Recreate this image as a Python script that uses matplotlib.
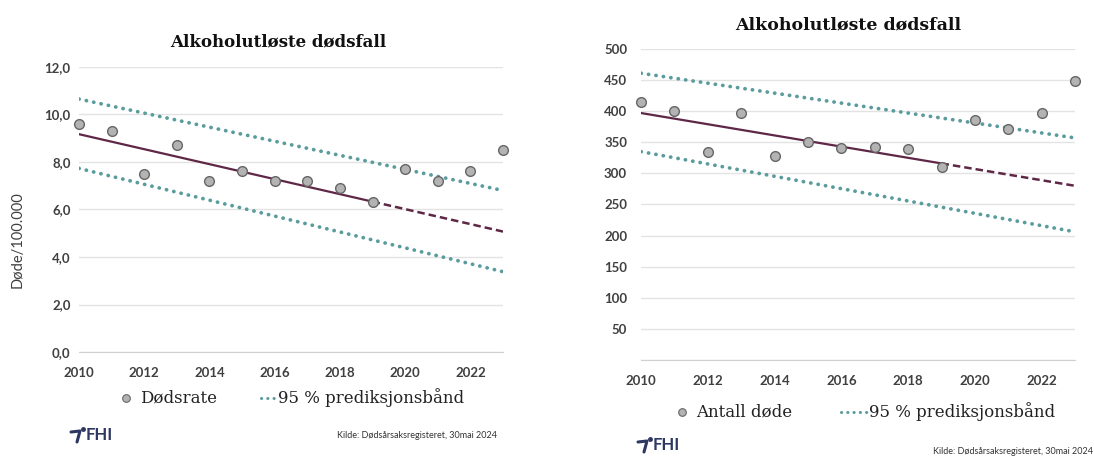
import numpy as np
import matplotlib
matplotlib.use("Agg")
import matplotlib.pyplot as plt
from matplotlib.ticker import FuncFormatter

years = list(range(2010, 2024))

# rate per 100 000
rate = [9.6, 9.3, 7.5, 8.7, 7.2, 7.6, 7.2, 7.2, 6.9, 6.3, 7.7, 7.2, 7.6, 8.5]
rate_trend_fit = [2010, 2019]          # solid part of the trend
rate_trend_fit_vals = [9.17, 6.33]
rate_trend_proj = [2019, 2023]         # dashed projection
rate_trend_proj_vals = [6.33, 5.07]
rate_band_years = [2010, 2023]
rate_band_upper = [10.65, 6.8]
rate_band_lower = [7.73, 3.38]

# number of deaths
deaths = [415, 400, 335, 397, 328, 351, 341, 343, 339, 311, 386, 371, 397, 449]
deaths_trend_fit = [2010, 2019]
deaths_trend_fit_vals = [397, 316]
deaths_trend_proj = [2019, 2023]
deaths_trend_proj_vals = [316, 280]
deaths_band_years = [2010, 2023]
deaths_band_upper = [461, 357]
deaths_band_lower = [335, 206]

xticks = [2010, 2012, 2014, 2016, 2018, 2020, 2022]

TITLE = "Alkoholutløste dødsfall"
SOURCE = "Kilde: Dødsårsaksregisteret, 30mai 2024"

c_point = "#b3b3b3"
c_point_edge = "#666666"
c_trend = "#5e2746"
c_band = "#5a9c9e"
c_grid = "#e3e3e3"
c_tick = "#404040"
c_fhi = "#2d3761"

sans = ["Lato", "DejaVu Sans"]
serif = ["DejaVu Serif"]

fig = plt.figure(figsize=(10.94, 4.59), dpi=100)


def draw_panel(ax, vals, fit_x, fit_y, proj_x, proj_y, band_x, up, lo):
    for b in (up, lo):
        ax.plot(band_x, b, color=c_band, lw=2.7, linestyle=(0, (0.05, 1.95)),
                dash_capstyle="round", zorder=2)
    ax.plot(fit_x, fit_y, color=c_trend, lw=1.6, zorder=3)
    ax.plot(proj_x, proj_y, color=c_trend, lw=1.8, linestyle=(0, (3, 1.6)), zorder=3)
    ax.plot(years, vals, linestyle="none", marker="o", ms=7, mfc=c_point,
            mec=c_point_edge, mew=1.0, zorder=4, clip_on=False)
    ax.set_xlim(2010, 2023)
    ax.set_xticks(xticks)
    ax.grid(axis="y", color=c_grid, lw=1.0, zorder=0)
    for s in ["top", "right", "left"]:
        ax.spines[s].set_visible(False)
    ax.spines["bottom"].set_color("#d0d0d0")
    ax.tick_params(length=0, labelsize=9.5, colors=c_tick, pad=6)


# left panel: rate
ax1 = fig.add_axes([0.0722, 0.2331, 0.3876, 0.621])
draw_panel(ax1, rate, rate_trend_fit, rate_trend_fit_vals, rate_trend_proj,
           rate_trend_proj_vals, rate_band_years, rate_band_upper, rate_band_lower)
ax1.set_ylim(0, 12)
ax1.set_yticks(np.arange(0, 12.1, 2))
ax1.yaxis.set_major_formatter(FuncFormatter(lambda v, p: f"{v:.1f}".replace(".", ",")))
ax1.tick_params(axis="x", pad=11)
fig.text(0.0165, 1 - 240 / 459, "Døde/100.000", rotation=90, ha="center", va="center",
         family=sans, fontsize=10.5, color=c_tick)
fig.text(278 / 1094, 1 - 42 / 459, TITLE, ha="center", va="center",
         family=serif, fontsize=12, fontweight="bold", color="#111111")

# right panel: counts
ax2 = fig.add_axes([0.586, 0.2157, 0.3967, 0.6776])
draw_panel(ax2, deaths, deaths_trend_fit, deaths_trend_fit_vals, deaths_trend_proj,
           deaths_trend_proj_vals, deaths_band_years, deaths_band_upper, deaths_band_lower)
ax2.set_ylim(0, 500)
ax2.set_yticks(np.arange(0, 501, 50))
ax2.yaxis.set_major_formatter(FuncFormatter(lambda v, p: "" if v == 0 else f"{v:.0f}"))
ax2.tick_params(axis="x", pad=11)
ax2.tick_params(axis="y", pad=10)
fig.text(848 / 1094, 1 - 25 / 459, TITLE, ha="center", va="center",
         family=serif, fontsize=12.5, fontweight="bold", color="#111111")

for ax in (ax1, ax2):
    for lbl in ax.get_xticklabels() + ax.get_yticklabels():
        lbl.set_family(sans)
        lbl.set_fontweight("bold")


def legend_row(y, mx, label1, lx, tx):
    fy = 1 - y / 459
    fig.lines.append(plt.Line2D([mx / 1094], [fy], transform=fig.transFigure,
                                marker="o", ms=5.5, mfc=c_point, mec=c_point_edge,
                                mew=0.8, linestyle="none"))
    fig.text((mx + 14) / 1094, fy, label1, ha="left", va="center",
             family=serif, fontsize=12, color="#222222")
    fig.lines.append(plt.Line2D([lx / 1094, (tx - 2) / 1094], [fy, fy],
                                transform=fig.transFigure, color=c_band, lw=2.2,
                                linestyle=(0, (0.05, 2.0)), dash_capstyle="round"))
    fig.text(tx / 1094, fy, "95 % prediksjonsbånd", ha="left", va="center",
             family=serif, fontsize=12, color="#222222")


legend_row(398, 126, "Dødsrate", 261, 278)
legend_row(412, 682, "Antall døde", 841, 869)


def fhi_logo(x, y):
    fy = 1 - y / 459
    fig.lines.append(plt.Line2D([x / 1094, (x + 9) / 1094, (x + 6) / 1094],
                                [fy + 3 / 459, fy + 4 / 459, fy - 7 / 459],
                                transform=fig.transFigure, color=c_fhi, lw=2.2,
                                solid_capstyle="round"))
    fig.lines.append(plt.Line2D([(x + 12) / 1094], [fy + 6 / 459], marker="o",
                                ms=2.5, color=c_fhi, transform=fig.transFigure))
    fig.text((x + 15) / 1094, fy, "FHI", ha="left", va="center", family=sans,
             fontsize=12, fontweight="bold", color=c_fhi)


fhi_logo(71, 435)
fhi_logo(638, 445)

fig.text(497 / 1094, 1 - 435 / 459, SOURCE, ha="right", va="center",
         family=sans, fontsize=6.5, color="#333333")
fig.text(1093 / 1094, 1 - 452 / 459, SOURCE, ha="right", va="center",
         family=sans, fontsize=6.5, color="#333333")

fig.savefig("out.png", dpi=100, facecolor="white")
